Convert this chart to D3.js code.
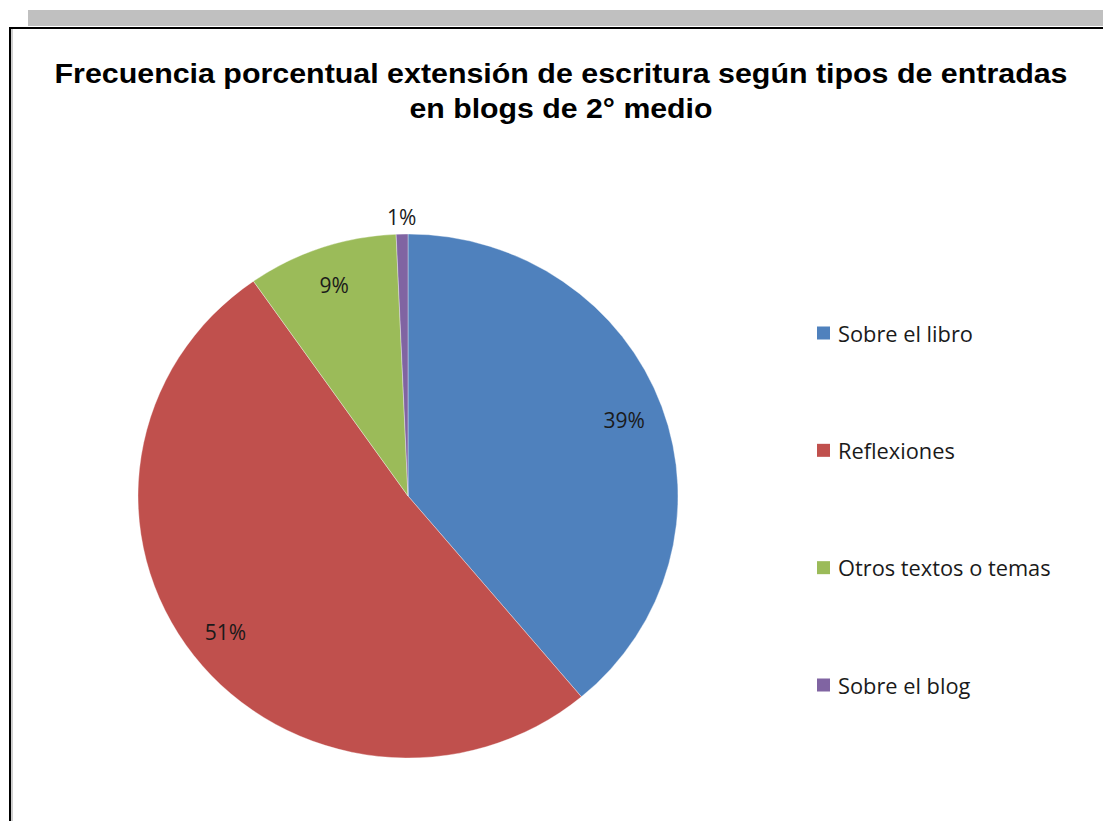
<!DOCTYPE html>
<html><head><meta charset="utf-8">
<script src="https://cdn.jsdelivr.net/npm/d3@7/dist/d3.min.js"></script>
<style>html,body{margin:0;padding:0;background:#fff;}svg{display:block;}</style>
</head><body>
<svg id="c" width="1103" height="821"></svg>
<script>
const categories = ["Sobre el libro", "Reflexiones", "Otros textos o temas", "Sobre el blog"];
const values = [38.9, 51.4, 9.0, 0.7];
const valueLabels = ["39%", "51%", "9%", "1%"];
const colors = ["#4F81BD", "#C0504D", "#9BBB59", "#8064A2"];
const titleLines = ["Frecuencia porcentual extensión de escritura según tipos de entradas", "en blogs de 2° medio"];

const svg = d3.select("#c");
// frame
svg.append("rect").attr("x", 28).attr("y", 10).attr("width", 1075).attr("height", 16).attr("fill", "#c0c0c0");
svg.append("line").attr("x1", 10).attr("x2", 1103).attr("y1", 28).attr("y2", 28).attr("stroke", "#000").attr("stroke-width", 2);
svg.append("line").attr("x1", 10).attr("x2", 10).attr("y1", 27).attr("y2", 821).attr("stroke", "#000").attr("stroke-width", 2);
svg.append("line").attr("x1", 12).attr("x2", 12).attr("y1", 29).attr("y2", 821).attr("stroke", "#a0a0a0").attr("stroke-width", 1);

// title
const tW = [1013, 303];
titleLines.forEach((t, i) => {
  svg.append("text").attr("x", 561).attr("y", 83 + i * 35).attr("text-anchor", "middle")
    .attr("font-family", "Liberation Sans, Arial, sans-serif").attr("font-weight", "bold")
    .attr("font-size", 28).attr("fill", "#000")
    .attr("textLength", tW[i]).attr("lengthAdjust", "spacingAndGlyphs").text(t);
});

// pie
const cx = 408, cy = 496, R = 270, sy = 262 / 270;
const pie = d3.pie().sort(null).value(d => d)(values);
const arc = d3.arc().innerRadius(0).outerRadius(R);
const g = svg.append("g").attr("transform", `translate(${cx},${cy}) scale(1,${sy})`);
g.selectAll("path").data(pie).enter().append("path")
  .attr("d", arc).attr("fill", (d, i) => colors[i])
  .attr("stroke", "#fff").attr("stroke-width", 0.6).attr("stroke-opacity", 0.6);

const labIn = d3.arc().innerRadius(230).outerRadius(230);
const labOut = d3.arc().innerRadius(288).outerRadius(288);
svg.selectAll("text.lab").data(pie).enter().append("text").attr("class", "lab")
  .attr("x", d => cx + ((d.endAngle - d.startAngle) < 0.1 ? labOut : labIn).centroid(d)[0])
  .attr("y", d => cy + sy * ((d.endAngle - d.startAngle) < 0.1 ? labOut : labIn).centroid(d)[1])
  .attr("text-anchor", "middle").attr("dominant-baseline", "central")
  .attr("font-family", "'Open Sans', sans-serif").attr("font-size", 21).attr("fill", "#1a1a1a")
  .text((d, i) => valueLabels[i]);

// legend
const ly = d3.scalePoint().domain(categories).range([333, 685]);
const lg = svg.selectAll("g.leg").data(categories).enter().append("g").attr("class", "leg")
  .attr("transform", d => `translate(817,${ly(d)})`);
lg.append("rect").attr("x", 0).attr("y", -6.5).attr("width", 13).attr("height", 13).attr("fill", (d, i) => colors[i]);
lg.append("text").attr("x", 21).attr("y", 0).attr("dominant-baseline", "central")
  .attr("font-family", "'Open Sans', sans-serif").attr("font-size", 21.8).attr("fill", "#1a1a1a").text(d => d);
</script>
</body></html>
